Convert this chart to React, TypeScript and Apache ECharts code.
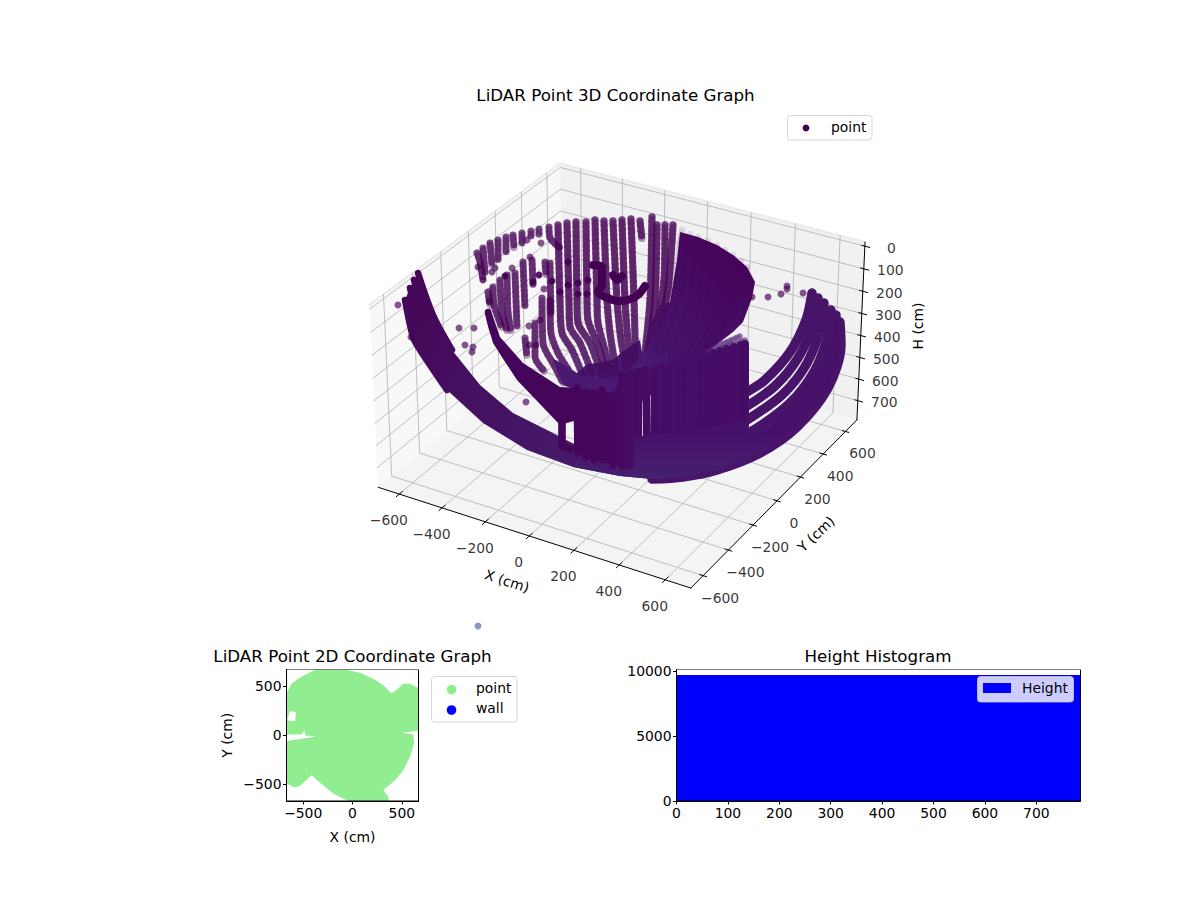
import React, { useEffect, useRef } from "react";
import * as echarts from "echarts";

const FONT = "DejaVu Sans";
const DARK = "#440154";

// 3D axes: limits of the box and tick values, in cm
const xLim = [-700, 710];
const yLim = [-695, 705];
const hLim = [-18, 790];
const xTicks = [-600, -400, -200, 0, 200, 400, 600];
const yTicks = [-600, -400, -200, 0, 200, 400, 600];
const hTicks = [0, 100, 200, 300, 400, 500, 600, 700];

// LiDAR strands as they appear in the picture (page x, page y)
const upperArcStrands = [
  [[477, 253], [480, 262], [483, 280]],
  [[483, 248], [485, 272]],
  [[490, 243], [492, 265]],
  [[498, 240], [498, 262]],
  [[506, 237], [506, 253]],
  [[513, 235], [514, 248]],
  [[522, 233], [522, 243]],
  [[531, 231], [531, 237]],
  [[539, 229], [539, 236]],
  [[549, 227], [550, 238], [560, 248]],
];
const lowerArcStrands = [
  [[493, 287], [494, 305], [502, 328]],
  [[500, 280], [502, 312], [507, 331]],
  [[507, 275], [508, 312], [511, 331]],
  [[515, 273], [517, 328]],
  [[523, 262], [525, 308]],
  [[532, 260], [533, 285]],
  [[550, 263], [551, 315]],
  [[525, 338], [527, 357]],
  [[535, 323], [535, 357], [545, 372]],
  [[542, 298], [543, 343], [555, 367], [563, 383]],
  [[550, 300], [551, 333], [558, 353], [570, 372]],
  [[488, 292], [490, 305]],
  [[545, 262], [546, 275]],
];
const backColumns = [
  [[558, 225], [560, 300], [562, 333], [572, 350], [583, 376]],
  [[567, 223], [569, 300], [570, 327], [580, 343], [593, 376]],
  [[576, 222], [577, 300], [578, 323], [590, 343], [602, 376]],
  [[586, 222], [587, 300], [588, 320], [597, 343], [608, 376]],
  [[595, 220], [597, 300], [598, 323], [605, 350], [612, 376]],
  [[604, 221], [607, 300], [610, 333], [617, 376]],
  [[613, 221], [617, 300], [621, 340], [628, 376]],
  [[622, 220], [625, 300], [628, 340], [634, 376]],
  [[631, 219], [634, 300], [636, 376]],
  [[640, 221], [642, 240]],
  [[652, 217], [650, 300], [643, 372]],
  [[657, 225], [655, 300], [648, 360]],
  [[665, 225], [664, 280], [655, 340]],
  [[673, 225], [668, 290], [658, 335]],
];
const centerDenseOutline = [[640, 372], [648, 330], [660, 305], [672, 302], [662, 368]];
const fanOutline = [
  [680, 232], [698, 237], [717, 245], [733, 255], [747, 267], [755, 282], [752, 298], [743, 322],
  [733, 332], [707, 352], [673, 365], [640, 372], [625, 372], [643, 355], [657, 332], [670, 302], [677, 260],
];
const fanStrands = [
  [[682, 230], [672, 290], [655, 350]],
  [[690, 234], [680, 295], [662, 355]],
  [[698, 237], [690, 300], [670, 360]],
  [[708, 241], [696, 310], [675, 362]],
  [[717, 245], [703, 318], [682, 360]],
  [[725, 250], [711, 320], [686, 358]],
  [[733, 255], [717, 320], [692, 357]],
  [[741, 261], [725, 318], [698, 356]],
  [[747, 267], [730, 318], [703, 354]],
];
const innerFloorOutline = [
  [552, 358], [565, 365], [577, 373], [587, 364], [597, 363], [613, 360], [622, 352], [640, 340], [645, 372],
  [622, 378], [622, 396], [590, 394], [575, 390], [563, 385],
];
const leftBandOutline = [
  [405, 300], [413, 337], [420, 350], [447, 390], [483, 423], [527, 450], [573, 467], [620, 476], [652, 479],
  [655, 470], [600, 455], [570, 442], [547, 430], [513, 413], [480, 385], [452, 350], [433, 315], [418, 273], [410, 288],
];
const leftBandStrands = [
  [[405, 300], [413, 337], [420, 350], [447, 390]],
  [[410, 288], [420, 325], [433, 355]],
  [[414, 280], [426, 318], [442, 350]],
  [[418, 273], [433, 315], [452, 350]],
];
const innerWallOutline = [
  [485, 313], [490, 308], [500, 337], [523, 363], [560, 387], [577, 388], [577, 420], [560, 425], [517, 380], [493, 343],
];
const innerWallEdge = [[488, 312], [495, 337], [513, 367], [537, 390]];
const rightBandStrands = [
  [[812, 293], [806, 320], [790, 352], [765, 380], [747, 392]],
  [[818, 298], [813, 325], [798, 358], [775, 386], [747, 406]],
  [[824, 303], [820, 330], [806, 365], [782, 395], [747, 420]],
  [[831, 310], [828, 335], [815, 370], [790, 403], [747, 434], [700, 455]],
  [[836, 315], [834, 340], [822, 378], [795, 413], [755, 443], [705, 463]],
  [[840, 322], [841, 345], [828, 388], [797, 427], [760, 453], [717, 470], [683, 477], [652, 479]],
];
const rightBandFill = [
  [840, 322], [841, 345], [828, 388], [797, 427], [760, 453], [717, 470], [683, 477], [652, 479],
  [650, 465], [700, 450], [747, 437], [770, 425], [795, 400], [822, 365], [834, 335], [836, 315],
];
const darkWallOutline = [
  [577, 388], [585, 392], [602, 390], [613, 395], [622, 375], [634, 373], [634, 440], [630, 470], [613, 465], [594, 460], [578, 453],
];
const wallTopOutline = [
  [634, 372], [663, 367], [690, 358], [690, 385], [667, 387], [651, 395], [643, 400], [634, 417],
];
const wallRightOutline = [[690, 358], [717, 351], [748, 343], [748, 437], [690, 462]];
const darkColumns = [
  [[562, 420], [562, 446], [570, 449]],
  [[577, 388], [578, 453]],
  [[585, 392], [586, 457]],
  [[593, 393], [594, 460]],
  [[602, 390], [603, 460]],
  [[613, 395], [613, 465]],
  [[622, 375], [622, 467]],
  [[630, 373], [630, 465]],
];
const wallColumns = [
  [[638, 372], [638, 440]],
  [[646, 370], [647, 440]],
  [[655, 369], [655, 440]],
  [[663, 367], [663, 440]],
  [[670, 365], [670, 440]],
  [[678, 364], [678, 440]],
  [[685, 362], [685, 440]],
  [[692, 358], [692, 440]],
  [[699, 357], [699, 440]],
  [[706, 355], [706, 440]],
  [[713, 353], [713, 440]],
  [[720, 351], [720, 440]],
  [[727, 349], [727, 436]],
  [[734, 347], [734, 432]],
  [[741, 345], [741, 428]],
  [[745, 344], [745, 426]],
];
const bowlBottomOutline = [
  [570, 450], [610, 440], [650, 435], [700, 430], [748, 420], [748, 437], [717, 468], [683, 477], [652, 479], [620, 476], [573, 467],
];
const latticeStrands = [
  [[745, 340], [725, 347], [705, 356]],
  [[740, 336], [722, 344], [705, 352]],
];
const darkBlobs = [
  [[593, 265], [602, 267], [602, 285], [598, 292], [607, 298]],
  [[608, 298], [618, 301], [628, 300], [638, 295], [645, 286]],
  [[613, 275], [617, 280], [622, 276]],
];
const darkPoints = [
  [552, 281], [560, 292], [568, 285], [578, 283], [578, 294], [587, 294], [588, 280], [568, 262],
  [539, 275], [533, 282], [505, 276],
];
const loosePoints = [
  [398, 305], [411, 337], [459, 328], [474, 328], [465, 345], [473, 347], [472, 352], [526, 402],
  [768, 297], [781, 294], [787, 286], [787, 289], [803, 293], [752, 297], [483, 280], [495, 268],
  [492, 272], [512, 268], [541, 243], [527, 240], [478, 267], [530, 257], [544, 289], [489, 301],
  [529, 326], [529, 345], [536, 345], [540, 320],
];
const outlierPoint = [[478, 626]];

// 2D plot: outline of the point cloud and the hole in it, in cm
const planLimit = 669.5;
const planTicks = [-500, 0, 500];
const planOutline = [
  [-669, 424], [-620, 525], [-536, 586], [-383, 668], [-61, 668], [75, 637], [210, 576], [312, 508], [397, 424],
  [481, 492], [515, 525], [583, 525], [668, 481], [668, 44], [498, 27], [617, 7], [624, -85], [583, -220],
  [515, -356], [431, -458], [312, -559], [363, -627], [373, -669], [-44, -669], [-197, -593], [-298, -508],
  [-417, -407], [-536, -519], [-586, -532], [-669, -492], [-669, -58], [-366, -14], [-475, -3], [-488, 44],
  [-519, 10], [-586, 7], [-669, 7],
];
const planHole = [[-664, 153], [-631, 247], [-573, 234], [-583, 139]];
const wallPoints: number[][] = [];

// histogram: bin edges and counts
const histEdges = [0, 50, 100, 150, 200, 250, 300, 350, 400, 450, 500, 550, 600, 650, 700, 750, 786];
const histCounts = [9720, 9720, 9720, 9720, 9720, 9720, 9720, 9720, 9720, 9720, 9720, 9720, 9720, 9720, 9720, 9720];
const histXMax = 786;
const histYMax = 10150;

const minus = (v: number) => String(v).replace("-", "\u2212");

// perspective of the 3D box: elevation 30, azimuth -60
function project(x: number, y: number, h: number): number[] {
  const hx = 0.595;
  const hz = 0.347;
  const qx = -hx + (2 * hx * (x - xLim[0])) / (xLim[1] - xLim[0]);
  const qy = -hx + (2 * hx * (y - yLim[0])) / (yLim[1] - yLim[0]);
  const qz = hz - (2 * hz * (h - hLim[0])) / (hLim[1] - hLim[0]);
  const u = 0.866 * qx + 0.5 * qy;
  const v = -0.25 * qx + 0.433 * qy + 0.866 * qz;
  const d = 10 - (0.433 * qx - 0.75 * qy + 0.5 * qz);
  return [622 + (2995 * u) / d, 364.5 - (2995 * v) / d];
}

const line = (points: number[][], width: number, color: any, opacity = 1, extra: any = {}) => ({
  type: "line",
  xAxisIndex: 0,
  yAxisIndex: 0,
  silent: true,
  symbol: "none",
  clip: false,
  smooth: extra.smooth ?? 0,
  data: points,
  lineStyle: { width, color, opacity, cap: "round", join: "round", ...extra.style },
});

const polygon = (outline: number[][], style: any, axis = 0) => ({
  type: "custom",
  xAxisIndex: axis,
  yAxisIndex: axis,
  silent: true,
  clip: axis !== 0,
  data: outline,
  encode: { x: 0, y: 1 },
  renderItem: (params: any, api: any) => {
    if (params.dataIndex !== 0) return null;
    return { type: "polygon", shape: { points: outline.map((p) => api.coord(p)) }, style };
  },
});

// a column of overlapping discs: flat dots plus a second row half a pitch along
const beads = (points: number[][], width: number, color: any, opacity: number) => [
  line(points, width, color, opacity, { smooth: 0.25, style: { type: [0.01, 4.8] } }),
  line(points, width, color, opacity * 0.55, { smooth: 0.25, style: { type: [0.01, 4.8], dashOffset: 2.4 } }),
];

const tickLabels = (points: { pos: number[]; text: string }[]) => ({
  type: "scatter",
  xAxisIndex: 0,
  yAxisIndex: 0,
  silent: true,
  symbolSize: 0,
  clip: false,
  data: points.map((p) => [p.pos[0], p.pos[1], p.text]),
  label: {
    show: true,
    position: "inside",
    formatter: (p: any) => p.value[2],
    color: "#000",
    fontFamily: FONT,
    fontSize: 13.9,
  },
});

function box3dSeries(): any[] {
  const [x0, x1] = xLim;
  const [y0, y1] = yLim;
  const [top, bot] = hLim;
  const grid = "#b8b8b8";
  const out: any[] = [
    polygon([project(x0, y0, bot), project(x0, y1, bot), project(x0, y1, top), project(x0, y0, top)], { fill: "#f8f8f8" }),
    polygon([project(x0, y1, bot), project(x1, y1, bot), project(x1, y1, top), project(x0, y1, top)], { fill: "#f1f1f1" }),
    polygon([project(x0, y0, bot), project(x1, y0, bot), project(x1, y1, bot), project(x0, y1, bot)], { fill: "#f4f4f4" }),
    line([project(x0, y0, top), project(x0, y1, top), project(x1, y1, top)], 2.2, "#ebebeb"),
  ];
  xTicks.forEach((t) => out.push(line([project(t, y0, bot), project(t, y1, bot), project(t, y1, top)], 0.9, grid)));
  yTicks.forEach((t) => out.push(line([project(x1, t, bot), project(x0, t, bot), project(x0, t, top)], 0.9, grid)));
  hTicks.forEach((t) => out.push(line([project(x0, y0, t), project(x0, y1, t), project(x1, y1, t)], 0.9, grid)));
  out.push(line([project(x0, y0, bot), project(x1, y0, bot)], 1, "#000"));
  out.push(line([project(x1, y0, bot), project(x1, y1, bot)], 1, "#000"));
  out.push(line([project(x1, y1, bot), project(x1, y1, top)], 1, "#000"));
  xTicks.forEach((t) => out.push(line([project(t, y0 + 22, bot), project(t, y0 - 22, bot)], 1, "#000")));
  yTicks.forEach((t) => out.push(line([project(x1 - 15, t, bot), project(x1 + 15, t, bot)], 1, "#000")));
  hTicks.forEach((t) => out.push(line([project(x1 - 14, y1, t), project(x1 + 22, y1, t)], 1, "#000")));
  out.push(
    tickLabels(xTicks.map((t) => {
      const p = project(t, y0, bot);
      return { pos: [p[0] - 10.5, p[1] + 26], text: minus(t) };
    })),
    tickLabels(yTicks.map((t) => {
      const p = project(x1, t, bot);
      return { pos: [p[0] + 17, p[1] + 22], text: minus(t) };
    })),
    tickLabels(hTicks.map((t) => {
      const p = project(x1, y1, t);
      return { pos: [p[0] + 26.5, p[1] + 1.5], text: minus(t) };
    })),
  );
  return out;
}

function cloudSeries(): any[] {
  const shade = new echarts.graphic.LinearGradient(0, 300, 0, 480, [
    { offset: 0, color: "#440154" },
    { offset: 1, color: "#461f70" },
  ], true);
  const fanShade = new echarts.graphic.LinearGradient(740, 250, 640, 370, [
    { offset: 0, color: "#450459" },
    { offset: 1, color: "#481a70" },
  ], true);
  const leftShade = new echarts.graphic.LinearGradient(420, 300, 640, 480, [
    { offset: 0, color: "#450758" },
    { offset: 1, color: "#46206f" },
  ], true);
  const wallShade = new echarts.graphic.LinearGradient(600, 0, 665, 0, [
    { offset: 0, color: "#45055a" },
    { offset: 1, color: "#47116a" },
  ], true);
  const bowlShade = new echarts.graphic.LinearGradient(0, 432, 0, 479, [
    { offset: 0, color: "#47116a" },
    { offset: 1, color: "#46206f" },
  ], true);
  const out: any[] = [];
  upperArcStrands.concat(lowerArcStrands).forEach((s) => out.push(...beads(s, 7.2, DARK, 0.7)));
  out.push(polygon(innerFloorOutline, { fill: "#4a1a72" }));
  backColumns.forEach((s) => out.push(...beads(s, 7.4, shade, 0.74)));
  out.push(polygon(centerDenseOutline, { fill: "#470e64" }));
  out.push(polygon(fanOutline, { fill: fanShade }));
  fanStrands.forEach((s) => out.push(...beads(s, 6.6, DARK, 0.1)));
  latticeStrands.forEach((s) => out.push(...beads(s, 5.5, "#4a1c72", 0.6)));
  rightBandStrands.forEach((s) => out.push(line(s, 9.4, "#47146a", 1, { smooth: 0.3 })));
  out.push(polygon(rightBandFill, { fill: bowlShade }));
  out.push(polygon(leftBandOutline, { fill: leftShade }));
  leftBandStrands.forEach((s) => out.push(line(s, 6.5, leftShade, 1, { smooth: 0.3 })));
  out.push(polygon(wallTopOutline, { fill: wallShade }));
  out.push(polygon(wallRightOutline, { fill: "#47116a" }));
  wallColumns.forEach((s) => out.push(line(s, 8, wallShade, 1)));
  wallColumns.forEach((s) => out.push(...beads(s, 6.4, DARK, 0.14)));
  out.push(polygon(bowlBottomOutline, { fill: bowlShade }));
  out.push(polygon(innerWallOutline, { fill: "#45055a" }));
  out.push(line(innerWallEdge, 6.5, "#45055a", 1, { smooth: 0.3 }));
  out.push(polygon(darkWallOutline, { fill: wallShade }));
  darkColumns.forEach((s) => out.push(line(s, 7.6, wallShade, 1)));
  darkBlobs.forEach((s) => out.push(line(s, 8, DARK, 1, { smooth: 0.3 })));
  out.push({
    type: "scatter", xAxisIndex: 0, yAxisIndex: 0, silent: true, clip: false,
    name: "point", data: loosePoints, symbolSize: 7,
    itemStyle: { color: DARK, opacity: 0.66 },
  });
  out.push({
    type: "scatter", xAxisIndex: 0, yAxisIndex: 0, silent: true, clip: false,
    data: darkPoints, symbolSize: 7,
    itemStyle: { color: DARK, opacity: 0.9 },
  });
  out.push({
    type: "scatter", xAxisIndex: 0, yAxisIndex: 0, silent: true, clip: false,
    data: outlierPoint, symbolSize: 7,
    itemStyle: { color: "#7478b0" },
  });
  return out;
}

const legendBox = (x: number, y: number, width: number, height: number, fill: string) => ({
  type: "rect",
  z: 1000,
  shape: { x, y, width, height, r: 3 },
  style: { fill, stroke: "rgba(204,204,204,0.8)", lineWidth: 1 },
});
const pageText = (text: string, x: number, y: number, rotation = 0, align = "center") => ({
  type: "text",
  z: 1001,
  x,
  y,
  rotation,
  style: { text, x: 0, y: 0, fill: "#000", align, verticalAlign: "middle", fontFamily: FONT, fontSize: 13.9 },
});
const dot = (cx: number, cy: number, r: number, fill: string) => ({
  type: "circle",
  z: 1001,
  shape: { cx, cy, r },
  style: { fill },
});

const tickAxis = (gridIndex: number, extra: any) => ({
  gridIndex,
  type: "value",
  splitLine: { show: false },
  axisLine: { show: true, onZero: false, lineStyle: { color: "#000", width: 1 } },
  axisTick: { show: true, length: 3.5, lineStyle: { color: "#000", width: 1 } },
  axisLabel: { color: "#000", fontFamily: FONT, fontSize: 13.9, margin: 5, showMaxLabel: false, formatter: (v: number) => minus(v) },
  nameLocation: "middle",
  nameTextStyle: { color: "#000", fontFamily: FONT, fontSize: 13.9 },
  ...extra,
});

const titleOf = (text: string, left: number, top: number) => ({
  text,
  left,
  top,
  textAlign: "center",
  textStyle: { fontFamily: FONT, fontSize: 16.7, fontWeight: "normal", color: "#000" },
});

const App: React.FC = () => {
  const ref = useRef<HTMLDivElement>(null);

  useEffect(() => {
    if (!ref.current) return;
    const chart = echarts.init(ref.current, null, { renderer: "svg" });

    const planFrame = [[-planLimit, -planLimit], [planLimit, -planLimit], [planLimit, planLimit], [-planLimit, planLimit]];
    const histFrame = [[0, 0], [histXMax, 0], [histXMax, histYMax], [0, histYMax]];

    const series: any[] = [
      ...box3dSeries(),
      ...cloudSeries(),
      { ...polygon(planOutline, { fill: "#90ee90" }, 1), name: "point" },
      polygon(planHole, { fill: "#fff" }, 1),
      { type: "scatter", name: "wall", xAxisIndex: 1, yAxisIndex: 1, data: wallPoints, itemStyle: { color: "#0000ff" } },
      polygon(planFrame, { fill: "none", stroke: "#000", lineWidth: 1 }, 1),
      {
        type: "custom",
        name: "Height",
        xAxisIndex: 2,
        yAxisIndex: 2,
        silent: true,
        clip: true,
        data: histCounts.map((c, i) => [histEdges[i], histEdges[i + 1], c]),
        encode: { x: [0, 1], y: 2 },
        renderItem: (_: any, api: any) => {
          const a = api.coord([api.value(0), api.value(2)]);
          const b = api.coord([api.value(1), 0]);
          return {
            type: "rect",
            shape: { x: a[0], y: a[1], width: b[0] - a[0] + 1.5, height: b[1] - a[1] },
            style: { fill: "#0000ff" },
          };
        },
      },
      polygon(histFrame, { fill: "none", stroke: "#000", lineWidth: 1 }, 2),
    ];
    // line series sit above custom ones by default, so stack everything in list order
    series.forEach((s, i) => {
      s.z = 3 + i;
    });

    chart.setOption({
      animation: false,
      title: [
        titleOf("LiDAR Point 3D Coordinate Graph", 610.5, 81),
        titleOf("LiDAR Point 2D Coordinate Graph", 347.5, 642),
        titleOf("Height Histogram", 873, 642),
      ],
      grid: [
        { left: 0, top: 0, width: 1200, height: 900 },
        { left: 286.5, top: 669.5, width: 132, height: 131.5 },
        { left: 676.5, top: 669.5, width: 404, height: 131.5 },
      ],
      xAxis: [
        { gridIndex: 0, type: "value", min: 0, max: 1200, show: false },
        tickAxis(1, {
          min: -planLimit, max: planLimit, name: "X (cm)", nameGap: 29,
          axisTick: { show: true, length: 3.5, customValues: planTicks, lineStyle: { color: "#000", width: 1 } },
          axisLabel: { color: "#000", fontFamily: FONT, fontSize: 13.9, margin: 5, customValues: planTicks, formatter: (v: number) => minus(v) },
        }),
        tickAxis(2, { min: 0, max: histXMax, interval: 100 }),
      ],
      yAxis: [
        { gridIndex: 0, type: "value", min: 0, max: 900, inverse: true, show: false },
        tickAxis(1, {
          min: -planLimit, max: planLimit, name: "Y (cm)", nameGap: 53,
          axisTick: { show: true, length: 3.5, customValues: planTicks, lineStyle: { color: "#000", width: 1 } },
          axisLabel: { color: "#000", fontFamily: FONT, fontSize: 13.9, margin: 5, customValues: planTicks, formatter: (v: number) => minus(v) },
        }),
        tickAxis(2, { min: 0, max: histYMax, interval: 5000 }),
      ],
      series,
      graphic: [
        pageText("X (cm)", 507, 581, -0.31),
        pageText("Y (cm)", 816, 534, 0.76),
        pageText("H (cm)", 918, 326, Math.PI / 2),
        legendBox(787.5, 115.5, 84.5, 24.5, "rgba(255,255,255,0.8)"),
        dot(806, 128, 3.4, DARK),
        pageText("point", 831, 127, 0, "left"),
        legendBox(431.5, 676.5, 85.5, 45.5, "rgba(255,255,255,0.8)"),
        dot(451.5, 689.5, 4.8, "#90ee90"),
        dot(451.5, 710, 4.8, "#0000ff"),
        pageText("point", 476, 688, 0, "left"),
        pageText("wall", 476, 708, 0, "left"),
        legendBox(977.5, 676.5, 96, 25.5, "rgba(255,255,255,0.8)"),
        { type: "rect", z: 1001, shape: { x: 983, y: 683, width: 28, height: 10 }, style: { fill: "#0000ff" } },
        pageText("Height", 1022, 688, 0, "left"),
      ],
    });

    return () => {
      chart.dispose();
    };
  }, []);

  return <div ref={ref} style={{ position: "absolute", left: 0, top: 0, width: 1200, height: 900 }} />;
};

export default App;
